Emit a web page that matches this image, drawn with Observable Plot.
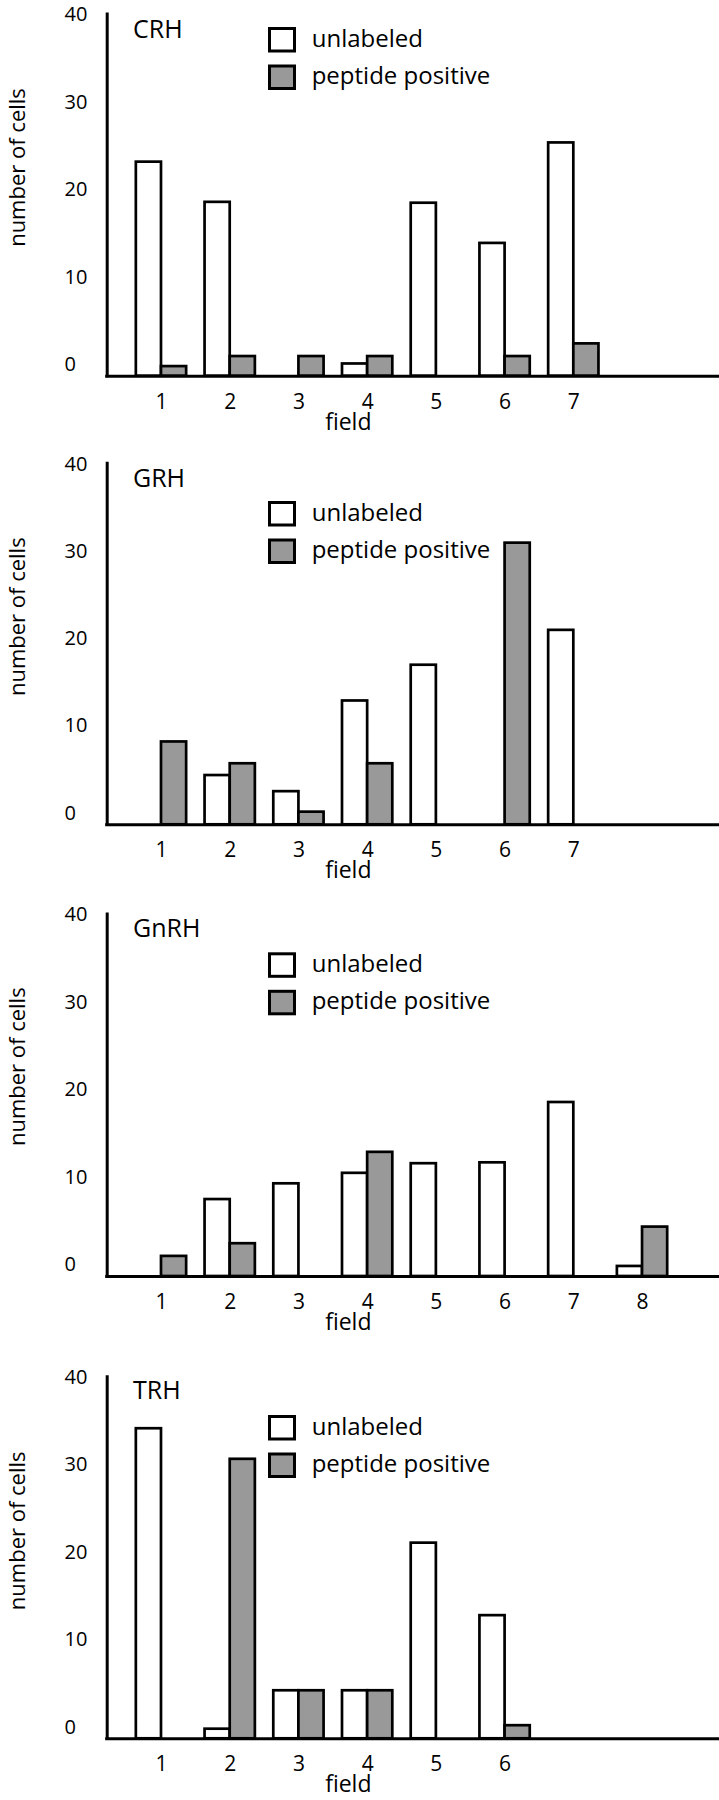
<!DOCTYPE html>
<html>
<head>
<meta charset="utf-8">
<script src="https://cdn.jsdelivr.net/npm/d3@7"></script>
<script src="https://cdn.jsdelivr.net/npm/@observablehq/plot@0.6"></script>
<style>
  body { margin: 0; background: #fff; }
  #chart { width: 719px; }
  #chart svg { display: block; }
</style>
</head>
<body>
<div id="chart"></div>
<script>
// ---- data (number of cells per field) ----
const panelNames = ["CRH", "GRH", "GnRH", "TRH"];
const seriesNames = ["unlabeled", "peptide positive"];
const yTicks = [0, 10, 20, 30, 40];

const fieldsCRH = [1, 2, 3, 4, 5, 6, 7];
const unlabeledCRH = [24.5, 19.9, 0, 1.4, 19.8, 15.2, 26.7];
const positiveCRH = [1.1, 2.25, 2.25, 2.25, 0, 2.25, 3.7];

const fieldsGRH = [1, 2, 3, 4, 5, 6, 7];
const unlabeledGRH = [0, 5.65, 3.8, 14.2, 18.3, 0, 22.3];
const positiveGRH = [9.5, 7.0, 1.45, 7.0, 0, 32.3, 0];

const fieldsGnRH = [1, 2, 3, 4, 5, 6, 7, 8];
const unlabeledGnRH = [0, 8.8, 10.6, 11.8, 12.9, 13.0, 19.9, 1.15];
const positiveGnRH = [2.3, 3.75, 0, 14.2, 0, 0, 0, 5.65];

const fieldsTRH = [1, 2, 3, 4, 5, 6];
const unlabeledTRH = [35.5, 1.1, 5.5, 5.5, 22.4, 14.1];
const positiveTRH = [0, 32.0, 5.5, 5.5, 0, 1.5];

const panelFields = [fieldsCRH, fieldsGRH, fieldsGnRH, fieldsTRH];
const panelUnlabeled = [unlabeledCRH, unlabeledGRH, unlabeledGnRH, unlabeledTRH];
const panelPositive = [positiveCRH, positiveGRH, positiveGnRH, positiveTRH];

// ---- layout (pixels, per panel) ----
const W = 719, H = 450;
const layouts = [
  { top: 14,   baseline: 375.7, titleY: 38,   legendTop: 27,   yTitleY: 167.5 },
  { top: 13.3, baseline: 374.3, titleY: 36.7, legendTop: 51,   yTitleY: 166.7 },
  { top: 14,   baseline: 376,   titleY: 36.7, legendTop: 52.3, yTitleY: 166.7 },
  { top: 26.7, baseline: 388.3, titleY: 49.3, legendTop: 65,   yTitleY: 180.8 }
];
const X_DOMAIN = [0.21, 9.12];
const Y_MAX = 41.4;
const BAR_W = 0.366;
const FILL_U = "#ffffff", FILL_P = "#999999", INK = "#000000";
const FONT = "'Open Sans', 'Noto Sans', sans-serif";

const root = document.getElementById("chart");

panelNames.forEach((name, pi) => {
  const L = layouts[pi];
  const fields = panelFields[pi];
  const rowsU = fields.map((f, i) => ({ field: f, value: panelUnlabeled[pi][i] })).filter(d => d.value > 0);
  const rowsP = fields.map((f, i) => ({ field: f, value: panelPositive[pi][i] })).filter(d => d.value > 0);

  const svg = Plot.plot({
    width: W,
    height: H,
    marginLeft: 106.7,
    marginRight: 0,
    marginTop: L.top,
    marginBottom: H - L.baseline,
    style: { fontFamily: FONT, color: INK, background: "#fff", overflow: "visible" },
    x: { domain: X_DOMAIN, axis: null },
    y: { domain: [0, Y_MAX], axis: null },
    marks: [
      Plot.rect(rowsU, { x1: d => d.field - BAR_W, x2: "field", y1: 0, y2: "value", fill: FILL_U, stroke: INK, strokeWidth: 2.7 }),
      Plot.rect(rowsP, { x1: "field", x2: d => d.field + BAR_W, y1: 0, y2: "value", fill: FILL_P, stroke: INK, strokeWidth: 2.7 }),
      Plot.ruleY([0], { stroke: INK, strokeWidth: 3, strokeLinecap: "square" }),
      Plot.ruleX([X_DOMAIN[0]], { stroke: INK, strokeWidth: 3, strokeLinecap: "square" }),
      Plot.axisY({ ticks: yTicks, tickSize: 0, tickPadding: 42.7, textAnchor: "start", dy: -11.7, fontSize: 20, label: null, tickFormat: d => String(d) }),
      Plot.axisX({ ticks: fields, tickSize: 0, tickPadding: 17.5, fontSize: 21, label: null, tickFormat: d => String(d) })
    ]
  });

  const s = d3.select(svg);
  // panel title
  s.append("text").attr("x", 133).attr("y", L.titleY).attr("text-anchor", "start")
    .attr("font-size", 25).attr("fill", INK).text(name);
  // y-axis title
  s.append("text").attr("transform", `translate(25,${L.yTitleY}) rotate(-90)`)
    .attr("text-anchor", "middle").attr("font-size", 22).attr("fill", INK).text("number of cells");
  // x-axis title
  s.append("text").attr("x", 348.3).attr("y", L.baseline + 54)
    .attr("text-anchor", "middle").attr("font-size", 23).attr("fill", INK).text("field");
  // legend
  const fills = [FILL_U, FILL_P];
  seriesNames.forEach((sn, k) => {
    const top = L.legendTop + k * 37.5;
    s.append("rect").attr("x", 269.5).attr("y", top + 1.5).attr("width", 25).attr("height", 22.5)
      .attr("fill", fills[k]).attr("stroke", INK).attr("stroke-width", 3);
    s.append("text").attr("x", 311.7).attr("y", top + 19.5).attr("text-anchor", "start")
      .attr("font-size", 24).attr("fill", INK).text(sn);
  });

  root.appendChild(svg);
});
</script>
</body>
</html>
